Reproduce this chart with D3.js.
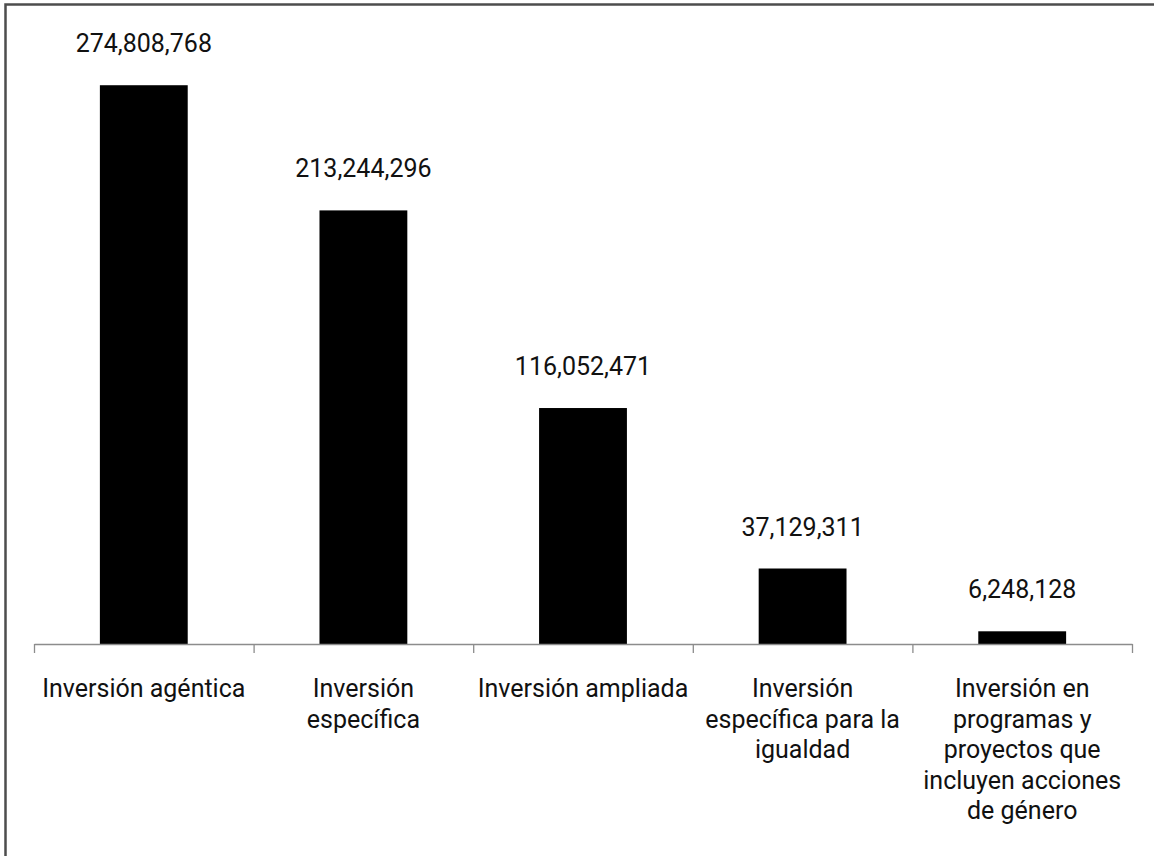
<!DOCTYPE html>
<html>
<head>
<meta charset="utf-8">
<script src="https://cdn.jsdelivr.net/npm/d3@7/dist/d3.min.js"></script>
<style>
  body { margin: 0; background: #fff; }
  text { font-family: Roboto, "Noto Sans", sans-serif; fill: #111; }
</style>
</head>
<body>
<div id="chart"></div>
<script>
var categories = [
  "Inversión agéntica",
  "Inversión\nespecífica",
  "Inversión ampliada",
  "Inversión\nespecífica para la\nigualdad",
  "Inversión en\nprogramas y\nproyectos que\nincluyen acciones\nde género"
];
var values = [274808768, 213244296, 116052471, 37129311, 6248128];

var width = 1154, height = 856;
var plotLeft = 34, plotRight = 1132, plotBase = 644, plotTop = 34;

var svg = d3.select("#chart").append("svg")
            .attr("width", width)
            .attr("height", height);

// frame (only top and left edges show)
svg.append("rect")
   .attr("x", 5.5).attr("y", 4.5)
   .attr("width", width + 20).attr("height", height + 20)
   .attr("fill", "none")
   .attr("stroke", "#4d4d4d")
   .attr("stroke-width", 2.5);

var x = d3.scaleBand()
          .domain(categories)
          .range([plotLeft, plotRight])
          .paddingInner(0.6)
          .paddingOuter(0.3);

var y = d3.scaleLinear()
          .domain([0, 300000000])
          .range([plotBase, plotTop]);

svg.selectAll("rect.bar")
   .data(values)
   .enter()
   .append("rect")
   .attr("class", "bar")
   .attr("x", function(d, i) { return x(categories[i]); })
   .attr("y", function(d) { return y(d); })
   .attr("width", x.bandwidth())
   .attr("height", function(d) { return plotBase - y(d); })
   .attr("fill", "#000");

// value labels
svg.selectAll("text.val")
   .data(values)
   .enter()
   .append("text")
   .attr("class", "val")
   .attr("x", function(d, i) { return x(categories[i]) + x.bandwidth() / 2; })
   .attr("y", function(d) { return y(d) - 33; })
   .attr("text-anchor", "middle")
   .style("font-size", "25px")
   .text(function(d) { return d3.format(",")(d); });

// axis with ticks at band boundaries
var edges = d3.scaleLinear().domain([0, categories.length]).range([plotLeft, plotRight]);
var axis = svg.append("g")
   .attr("transform", "translate(0," + plotBase + ")")
   .call(d3.axisBottom(edges)
           .tickValues(d3.range(categories.length + 1))
           .tickSize(9)
           .tickSizeOuter(0)
           .tickFormat(""));
axis.selectAll("path, line").attr("stroke", "#8c8c8c").attr("stroke-width", 1.3);

// category labels
var labels = svg.selectAll("text.cat")
   .data(categories)
   .enter()
   .append("text")
   .attr("class", "cat")
   .attr("text-anchor", "middle")
   .style("font-size", "25px");

labels.each(function(d) {
  var t = d3.select(this);
  var cx = x(d) + x.bandwidth() / 2;
  d.split("\n").forEach(function(line, k) {
    t.append("tspan")
     .attr("x", cx)
     .attr("y", 697 + k * 30.5)
     .text(line);
  });
});
</script>
</body>
</html>
